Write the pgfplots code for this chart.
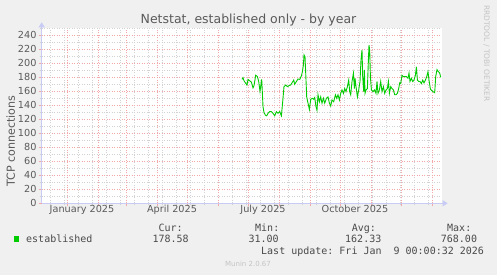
\documentclass[border=0pt]{standalone}
\usepackage{pgfplots}
\pgfplotsset{compat=1.18}
\usepackage{fontspec}
\setmainfont{DejaVu Sans}
\setmonofont{DejaVu Sans Mono}
\usetikzlibrary{arrows.meta}
\definecolor{bgc}{HTML}{F0F0F0}
\definecolor{mgrid}{HTML}{F2A8A8}
\definecolor{gridc}{HTML}{D2D2D2}
\definecolor{axisc}{HTML}{C8CCF4}
\definecolor{fontc}{HTML}{5A5A5A}
\definecolor{legc}{HTML}{4A4A4A}
\definecolor{wmc}{HTML}{C4C4C4}
\definecolor{est}{HTML}{00CC00}
\pgfplotstableread{
d v
175.0 177
176.0 179.5
177.0 175
178.7 171.4
180.0 169
181.0 177
182.7 175
184.4 173
186.0 165
187.0 168
188.7 183
190.4 181
191.7 174
193.0 160
193.7 167
194.7 177
195.4 157
196.0 138
197.0 129.5
198.4 126
199.7 125
201.0 128.5
202.7 131
204.4 131
206.0 128.5
207.7 125
209.4 131
211.0 128.5
212.7 131
214.4 125
216.0 150
217.0 166.7
218.7 169
220.4 166.7
222.0 168
223.7 169
225.4 173
226.7 176
227.7 170
229.4 174
231.0 177.6
232.7 177
234.4 182
235.4 188
236.4 197.6
237.0 212
238.0 209.5
238.7 186
239.7 152
241.0 143
242.4 134
243.7 148.6
245.4 150
246.7 148.6
247.7 151
249.0 138
250.0 133
251.0 155
252.4 145
253.7 152
255.0 143
256.4 150
257.7 143
259.4 150
261.0 152
262.4 143
263.7 139
265.0 147.6
266.7 145
268.4 155
269.7 150
271.0 155
272.4 147.6
273.7 157
275.0 162
276.4 157
277.7 164
279.0 159.5
280.4 166.7
281.7 176
282.7 159.5
283.7 155
285.0 174
286.4 186
287.4 164
288.0 178.6
289.0 166.7
290.4 152
291.7 162
293.0 174
294.0 205
295.0 219
295.7 181
296.7 159.5
297.4 190.5
298.0 157
299.0 162
300.4 164
301.4 205
302.0 226
302.7 219
303.4 181
304.4 162
306.0 159.5
307.7 162
309.0 157
310.0 174
311.0 157
312.4 162
313.7 174
315.0 159.5
316.4 166.7
317.7 157
319.0 162
320.4 164
321.4 174
322.4 157
323.7 166.7
325.0 164
326.4 162
327.7 155
329.0 155
330.4 157
331.7 164
332.7 172
333.7 171
335.0 183
336.4 181
337.7 181
339.4 181
341.0 178.6
342.0 186
343.0 174
344.4 178.6
345.7 174
347.0 176
348.4 183
349.4 195
350.4 176
351.7 174
353.0 174
354.4 171
355.7 176
357.0 172
358.4 176
359.7 181
361.0 188
362.0 176
363.4 163
364.7 161
366.0 159.5
367.7 158
368.7 181
370.0 191
371.4 188
372.7 186
373.7 180
}\established
\begin{document}
\begin{tikzpicture}[x=1pt,y=1pt]
\begin{scope}[shift={(-67pt,-71.7pt)}]
\fill[bgc] (0,0) rectangle (497,275);
\end{scope}
\begin{axis}[
  at={(0pt,0pt)}, anchor=origin,
  scale only axis, width=400pt, height=175pt,
  xmin=-25.3, xmax=374.7, ymin=0, ymax=250,
  axis background/.style={fill=white},
  axis x line=bottom, axis y line=left,
  axis line style={draw=axisc, line width=1pt, -{Triangle[length=5pt,width=6pt]}, shorten >=-6pt},
  xtick={0,31,59,90,120,151,181,212,243,273,304,334,365},
  xticklabels={},
  minor xtick={-17,-3,11,...,361},
  extra x ticks={15,105,196,288},
  extra x tick labels={January 2025,April 2025,July 2025,October 2025},
  extra x tick style={grid=none, major tick length=0pt},
  ytick={0,20,...,240},
  minor ytick={10,30,...,250},
  grid=both,
  major grid style={mgrid, dash pattern=on 1pt off 1.5pt, line width=0.8pt},
  minor grid style={gridc, dash pattern=on 1pt off 1.5pt, line width=0.8pt},
  tick align=outside,
  major tick length=3pt, minor tick length=2pt,
  major tick style={mgrid, line width=0.8pt},
  minor tick style={gridc, line width=0.8pt},
  /pgf/number format/assume math mode=true,
  ticklabel style={font=\fontsize{9.7}{11}\selectfont, text=fontc},
  yticklabel style={inner sep=1pt, xshift=-1pt},
  xticklabel style={inner sep=1pt, yshift=-0.5pt},
]
\addplot[est, line width=0.9pt, no marks] table[x=d, y=v] {\established};
\end{axis}
\begin{scope}[shift={(-67pt,-71.7pt)}]
\node[anchor=base, font=\fontsize{12.5}{14}\selectfont, text=fontc, inner sep=0] at (248.5,251) {Netstat, established only - by year};
\node[rotate=90, anchor=base, font=\fontsize{11.1}{13}\selectfont, text=fontc, inner sep=0] at (15,134) {TCP connections};
\node[rotate=-90, anchor=base west, font=\fontsize{7.5}{9}\selectfont, text=wmc, inner sep=0] at (484,270) {RRDTOOL / TOBI OETIKER};
\begin{scope}[every node/.style={anchor=base west, inner sep=0, font=\fontsize{10}{12}\ttfamily, text=legc}]
\node at (158.3,43.5) {Cur:};
\node at (255,43.5) {Min:};
\node at (351.7,43.5) {Avg:};
\node at (447,43.5) {Max:};
\node at (26,32) {established};
\node at (152.3,32) {178.58};
\node at (248.3,32) {31.00};
\node at (345,32) {162.33};
\node at (440.7,32) {768.00};
\node at (261,20) {Last update: Fri Jan~~9 00:00:32 2026};
\end{scope}
\fill[est] (14,33.3) rectangle (19.3,38.7);
\node[anchor=base, font=\fontsize{7}{8}\selectfont, text=wmc, inner sep=0] at (248,8.5) {Munin 2.0.67};
\end{scope}
\end{tikzpicture}
\end{document}
